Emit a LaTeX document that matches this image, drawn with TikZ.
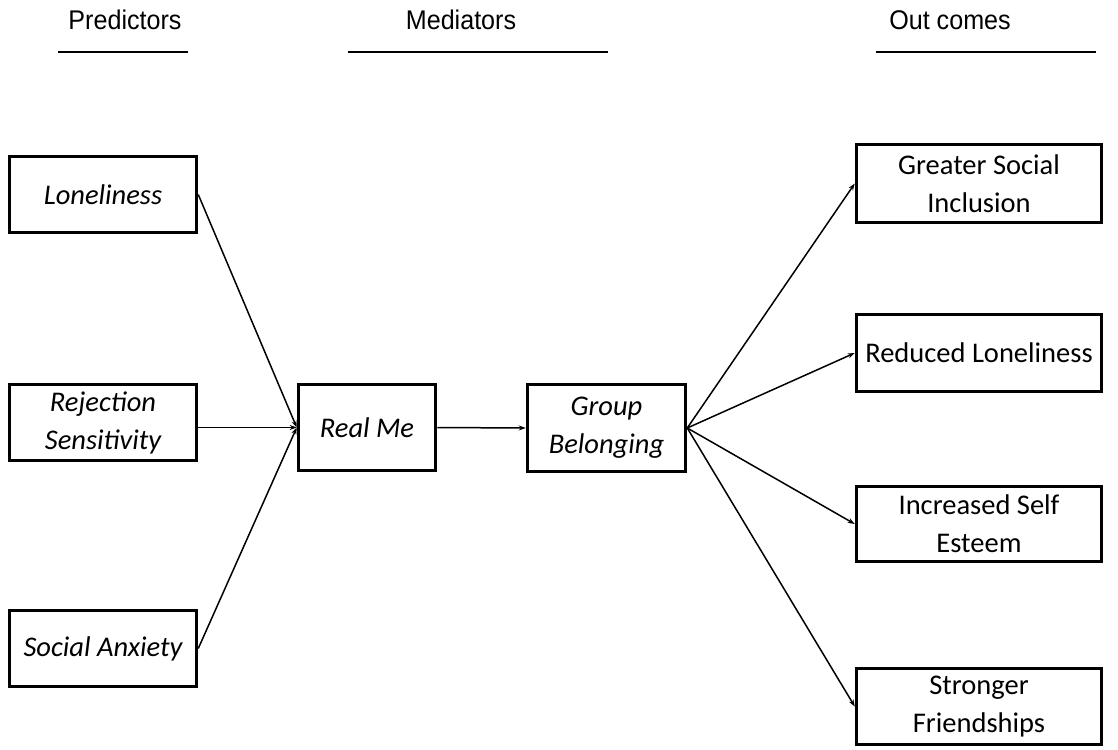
\documentclass[tikz,border=0pt]{standalone}
\usepackage{fontspec}
\setmainfont{Carlito}
\newfontfamily\hdrfont[FakeStretch=0.93]{Liberation Sans}
\usetikzlibrary{arrows.meta}
\begin{document}
\begin{tikzpicture}[x=1pt,y=-1pt,
  box/.style={draw, line width=3.5pt, inner sep=0pt, align=center,
    font=\fontsize{28.5}{38}\selectfont},
  ibox/.style={box, font=\fontsize{28.5}{38}\selectfont\itshape},
  hdr/.style={inner sep=0pt, anchor=base, font=\hdrfont\fontsize{27}{30}\selectfont},
  uline/.style={line width=1.8pt},
  arr/.style={line width=1.5pt, -{Stealth[length=7pt,width=5pt]}}]
\useasboundingbox (0,0) rectangle (1118,749);
\fill[white] (0,0) rectangle (1118,749);

% headers
\node[hdr] (hp) at (125,30) {Predictors};
\node[hdr] (hm) at (461,30) {Mediators};
\node[hdr] (ho) at (950,30) {Out comes};
\draw[uline] (58,52) -- (188,52);
\draw[uline] (348,52) -- (608,52);
\draw[uline] (876,52) -- (1096,52);

% predictors
\node[ibox, minimum width=187pt, minimum height=76pt] (lon) at (103,194.5) {Loneliness};
\node[ibox, minimum width=187pt, minimum height=76pt] (rej) at (103,422.5) {Rejection\\Sensitivity};
\node[ibox, minimum width=187pt, minimum height=76pt] (soc) at (103,648.5) {Social Anxiety};

% mediators
\node[ibox, minimum width=137pt, minimum height=86pt] (real) at (367,427.5) {Real Me};
\node[ibox, minimum width=158pt, minimum height=87pt] (grp) at (606.5,428) {Group\\Belonging};

% outcomes
\node[box, minimum width=245pt, minimum height=78pt] (gsi) at (979,183.5) {Greater Social\\Inclusion};
\node[box, minimum width=245pt, minimum height=77pt] (red) at (979,353) {Reduced Loneliness};
\node[box, minimum width=245pt, minimum height=75pt] (inc) at (979,524) {Increased Self\\Esteem};
\node[box, minimum width=245pt, minimum height=76pt] (str) at (979,706.5) {Stronger\\Friendships};

% connectors
\draw[arr] (lon.east) -- (real.west);
\draw[arr] (rej.east |- real.west) -- (real.west);
\draw[arr] (soc.east) -- (real.west);
\draw[arr] (real.east) -- (grp.west);
\draw[arr] (grp.east) -- (gsi.west);
\draw[arr] (grp.east) -- (red.west);
\draw[arr] (grp.east) -- (inc.west);
\draw[arr] (grp.east) -- (str.west);
\end{tikzpicture}
\end{document}
